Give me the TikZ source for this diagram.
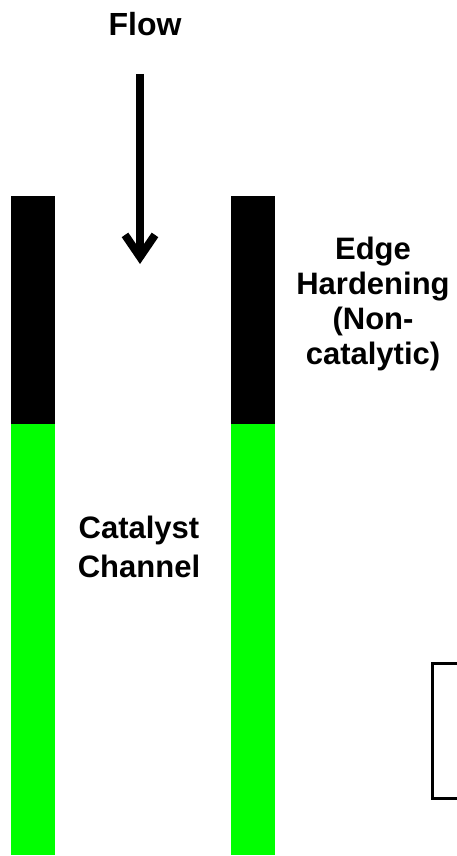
\documentclass[tikz,border=0pt]{standalone}
\usepackage{fontspec}
\setmainfont{Liberation Sans}
\usetikzlibrary{arrows.meta}
\definecolor{catgreen}{HTML}{00FF00}
\begin{document}
\begin{tikzpicture}[x=1pt,y=-1pt,
  lbl/.style={font=\fontsize{31}{35}\selectfont\bfseries, align=center, inner sep=0pt},
  hardpart/.style={fill=black, draw=none},
  catpart/.style={fill=catgreen, draw=none},
  flowarrow/.style={line width=8pt, -{Straight Barb[length=22pt, width=30pt]}},
  framebox/.style={draw=black, line width=2.6pt}]
\useasboundingbox[fill=white] (0,0) rectangle (456,856);
% channel walls
\path[hardpart] (11,196) rectangle (55,424);
\path[catpart] (11,424) rectangle (55,855);
\path[hardpart] (231,196) rectangle (275,424);
\path[catpart] (231,424) rectangle (275,855);
% labels
\node[lbl, font=\fontsize{32}{36}\selectfont\bfseries] (flow) at (145,24) {Flow};
\node[lbl] (edge) at (373,304) {Edge\\Hardening\\(Non-\\catalytic)};
\node[lbl, font=\fontsize{31}{39}\selectfont\bfseries] (cat) at (139,547) {Catalyst\\Channel};
% arrow
\coordinate (arrstart) at (140,74);
\coordinate (arrend) at (140,264);
\draw[flowarrow] (arrstart) -- (arrend);
% partial box at right edge
\node[framebox, minimum width=40pt, minimum height=135pt, anchor=north west, inner sep=0pt] (box) at (431.3,662.3) {};
\end{tikzpicture}
\end{document}
